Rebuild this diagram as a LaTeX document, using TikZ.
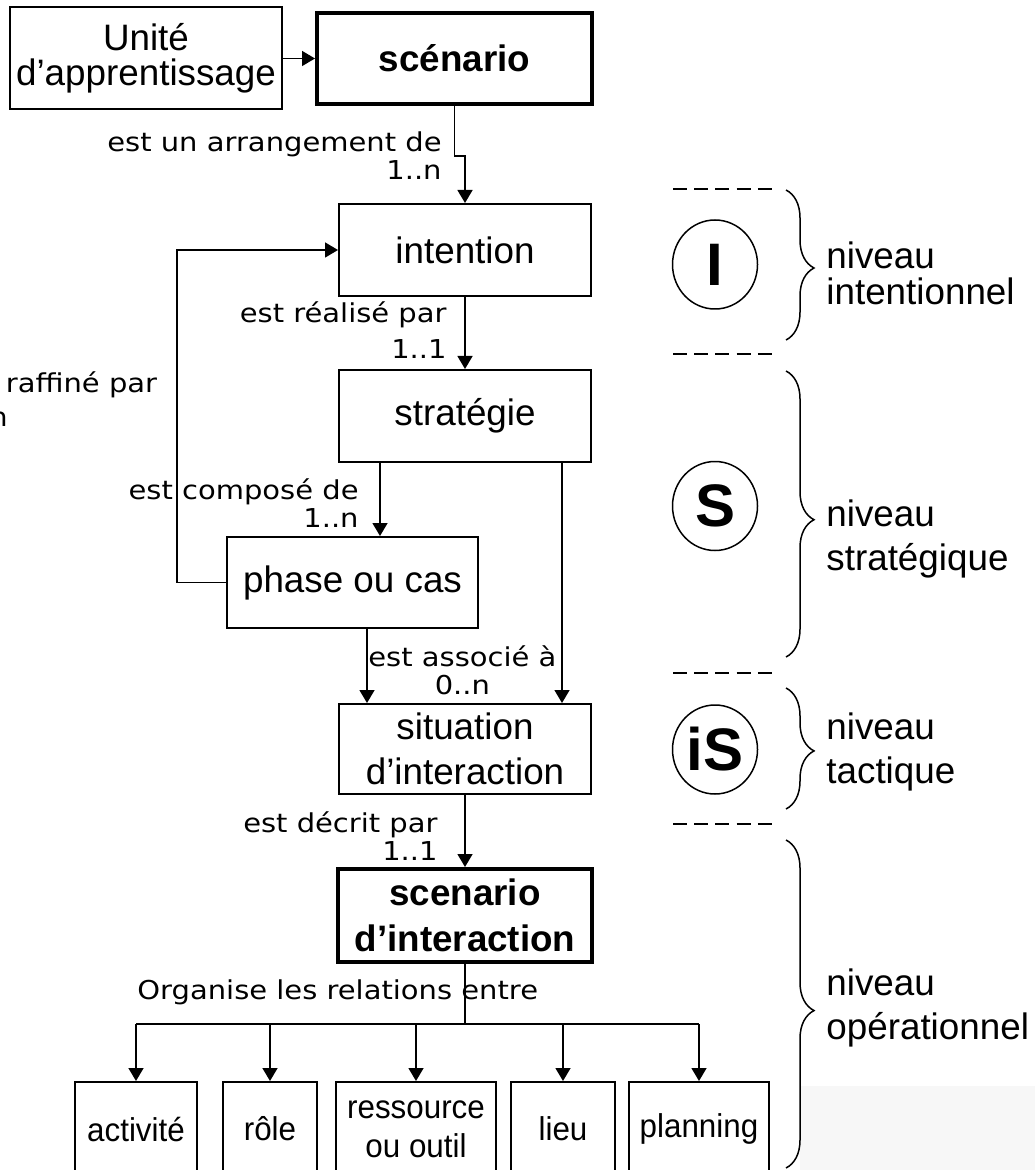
\documentclass[tikz,border=0pt]{standalone}
\usepackage{fontspec}
\setmainfont{Liberation Sans}
\newfontfamily\relfont[FakeStretch=1.115]{DejaVu Sans}
\newfontfamily\leaffont[FakeStretch=0.95]{Liberation Sans}
\usetikzlibrary{arrows.meta,shapes.geometric,decorations.pathreplacing}

\begin{document}
\begin{tikzpicture}[x=0.5pt, y=-0.5pt,
    stagebox/.style={draw, rectangle, line width=1pt, inner sep=0pt, align=center,
        minimum width=126pt, minimum height=46pt, font=\fontsize{18.4}{22.5}\selectfont},
    keybox/.style={stagebox, line width=2pt, font=\fontsize{18.4}{23}\selectfont\bfseries},
    leafbox/.style={draw, rectangle, line width=1pt, inner sep=0pt, align=center, anchor=north,
        minimum height=47pt, font=\leaffont\fontsize{16.5}{19.5}\selectfont},
    tier/.style={draw, ellipse, line width=0.75pt, inner sep=0pt,
        minimum width=42.5pt, minimum height=44.5pt, font=\fontsize{30}{30}\selectfont\bfseries},
    tiername/.style={anchor=south west, align=left, inner sep=0pt, text depth=0pt,
        font=\fontsize{18.4}{22}\selectfont},
    rel/.style={inner sep=0pt, text depth=0pt, font=\relfont\fontsize{13}{14}\selectfont},
    divider/.style={line width=0.75pt, dash pattern=on 7pt off 3.6pt},
    levelbrace/.style={decorate, decoration={brace, amplitude=14pt, aspect=0.52}, line width=0.75pt},
    arrow/.style={-{Triangle[length=6.5pt, width=7.5pt]}, line width=0.75pt}
]
\useasboundingbox (0,0) rectangle (1035,1170);
\clip (0,0) rectangle (1035,1170);

% Shaded corner
\fill[black!3] (800,1086) rectangle (1035,1170);

% Main chain
\node[stagebox, minimum width=136pt, minimum height=51pt] (unite) at (146,58.5) {Unité\\[-5pt]d’apprentissage};
\node[keybox, minimum width=137.5pt, minimum height=45.5pt] (scenario) at (454.5,58.5) {scénario};
\node[stagebox] (intention) at (465,250) {intention};
\node[stagebox] (strategie) at (465,416) {stratégie};
\node[stagebox, minimum width=125.5pt, minimum height=45.5pt] (phase) at (352.5,582.5) {phase ou cas};
\node[stagebox, minimum height=45pt] (situation) at (465,749) {situation\\d’interaction};
\node[keybox, minimum width=127pt, minimum height=46.5pt] (scenint) at (465,915.5) {scenario\\d’interaction};

% Leaves
\node[leafbox, minimum width=61pt] (activite) at (136,1081) {activité};
\node[leafbox, minimum width=47pt] (role) at (270,1081) {rôle};
\node[leafbox, minimum width=80pt] (ressource) at (416,1081) {ressource\\ou outil};
\node[leafbox, minimum width=52pt] (lieu) at (563,1081) {lieu};
\node[leafbox, minimum width=70pt] (planning) at (699,1081) {planning};

% Relation labels
\node[rel, anchor=south east, align=right] (larr) at (442,180) {est un arrangement de\\1..n};
\node[rel, anchor=south east, align=right] (lrea) at (447,359) {est réalisé par\\[4pt]1..1};
\node[rel, anchor=south west, align=left] (lraf) at (-48,427) {est raffiné par\\[3pt]1..n};
\node[rel, anchor=south east, align=right] (lcom) at (359,528) {est composé de\\1..n};
\node[rel, anchor=south west, align=center] (lass) at (368,695) {est associé à\\0..n};
\node[rel, anchor=south east, align=right] (ldec) at (438,861) {est décrit par\\1..1};
\node[rel, anchor=base west] (lorg) at (137,999) {Organise les relations entre};

% Arrows
\draw[arrow] (unite.east) -- (scenario.west);
\draw[arrow] (scenario.south) -- ++(0,50) -| (intention.north);
\draw[arrow] (intention) -- (strategie);
\draw[arrow] ([xshift=13.75pt]phase.north |- strategie.south) -- ([xshift=13.75pt]phase.north);
\draw[arrow] ([xshift=48.5pt]situation.north |- strategie.south) -- ([xshift=48.5pt]situation.north);
\draw[arrow] (phase.west) -- ++(-49,0) |- (intention.west);
\draw[arrow] ([xshift=7.25pt]phase.south) -- ([xshift=7.25pt]phase.south |- situation.north);
\draw[arrow] (situation) -- (scenint);
\draw[line width=0.75pt] (scenint.south) -- ++(0,60) coordinate (bus);
\draw[line width=0.75pt] (activite.north |- bus) -- (planning.north |- bus);
\foreach \n in {activite,role,ressource,lieu,planning}
    \draw[arrow] (\n.north |- bus) -- (\n.north);

% Levels
\foreach \y in {189,354,673,824}
    \draw[divider] (673,\y) -- (772,\y);
\node[tier] (tierI) at (715,264.5) {I};
\node[tier] (tierS) at (715,506) {S};
\node[tier] (tierIS) at (715,749.5) {iS};
\draw[levelbrace] (786,190) -- (786,340);
\draw[levelbrace] (786,371) -- (786,657);
\draw[levelbrace] (786,688) -- (786,809);
\draw[levelbrace] (786,840) -- (786,1168);
\node[tiername] (nivI) at (826,305) {niveau\\[-4pt]intentionnel};
\node[tiername] (nivS) at (826,571) {niveau\\stratégique};
\node[tiername] (nivT) at (826,784) {niveau\\tactique};
\node[tiername] (nivO) at (826,1040) {niveau\\opérationnel};

\end{tikzpicture}
\end{document}
